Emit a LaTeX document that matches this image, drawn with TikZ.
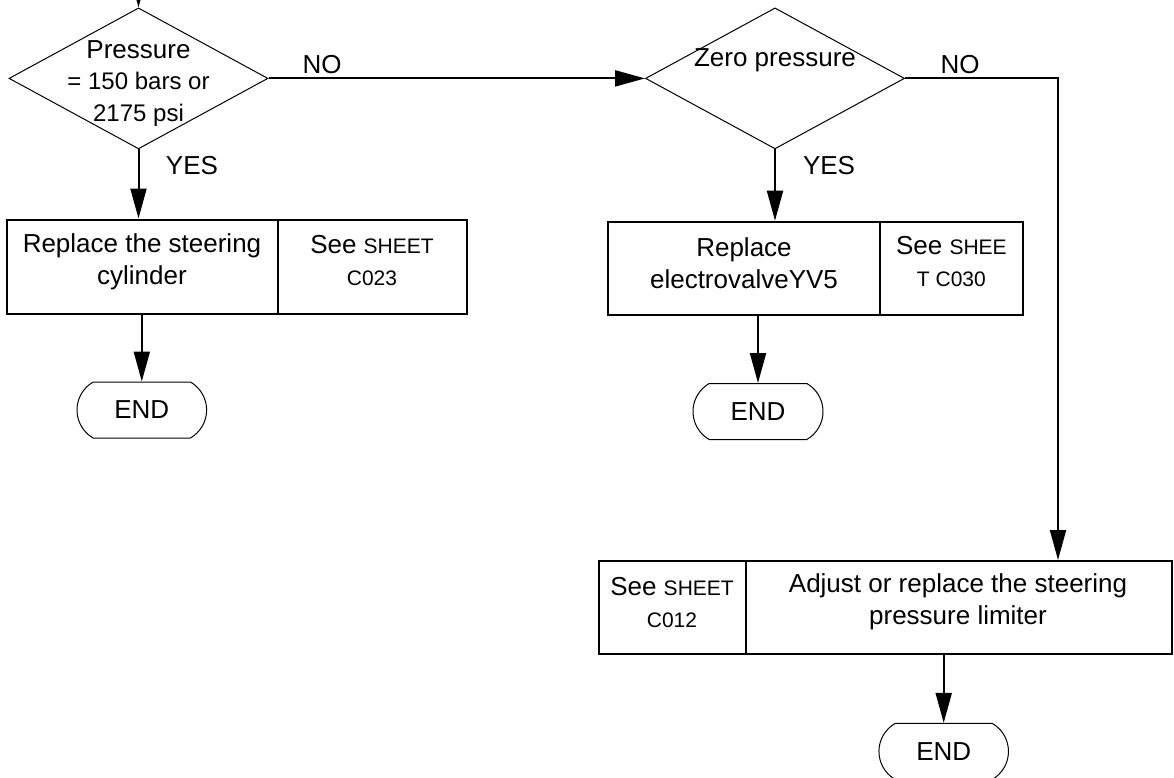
\documentclass[tikz,border=0pt]{standalone}
\usepackage{fontspec}
\setmainfont{Liberation Sans}
\usetikzlibrary{arrows.meta,shapes.geometric,shapes.misc}
\newcommand\myfs[2]{\fontsize{#1}{#2}\selectfont}
\tikzset{
  dia/.style={draw, shape=diamond, inner sep=0pt, line width=1pt},
  boxnode/.style={draw, rectangle, inner sep=0pt, line width=2pt},
  endnode/.style={draw, rounded rectangle, rounded rectangle arc length=120, inner sep=0pt, line width=1pt, font=\myfs{26}{31}},
  txt/.style={align=center, inner sep=0pt, font=\myfs{26}{32}},
  lbl/.style={inner sep=0pt, font=\myfs{26}{31}},
  conn/.style={line width=2pt},
  arr/.style={line width=2pt, -{Triangle[length=30pt,width=16pt]}},
}
\begin{document}
\begin{tikzpicture}[x=1pt,y=-1pt]
\useasboundingbox (0,0) rectangle (1174,778);
% decisions
\node[dia, minimum width=259pt, minimum height=141pt] (d1) at (138.5,78.4) {};
\node[txt] (d1t) at (138.5,83.5) {\myfs{26}{31}Pressure\\[-1pt]\myfs{24}{31}= 150 bars or\\\myfs{24}{31}2175 psi};
\node[dia, minimum width=259pt, minimum height=141pt] (d2) at (775,78.4) {};
\node[lbl] (d2t) at (775,60.5) {Zero pressure};
% boxes
\node[boxnode, minimum width=271pt, minimum height=94pt] (b1a) at (142.2,266.5) {};
\node[boxnode, minimum width=188.7pt, minimum height=94pt] (b1b) at (372.15,266.5) {};
\node[txt] (b1at) at (142,261.5) {Replace the steering\\cylinder};
\node[txt] (b1bt) at (372,260.5) {See {\myfs{21}{32}SHEET}\\{\myfs{21}{32}C023}};
\node[boxnode, minimum width=272pt, minimum height=93pt] (b2a) at (744,268.2) {};
\node[boxnode, minimum width=142.8pt, minimum height=93pt] (b2b) at (951.4,268.2) {};
\node[txt] (b2at) at (744,263) {Replace\\electrovalveYV5};
\node[txt] (b2bt) at (951.4,262) {See {\myfs{21}{32}SHEE}\\{\myfs{21}{32}T C030}};
\node[boxnode, minimum width=146.7pt, minimum height=92.5pt] (b3a) at (672.35,607.25) {};
\node[boxnode, minimum width=426pt, minimum height=92.5pt] (b3b) at (958.7,607.25) {};
\node[txt] (b3at) at (672,602.5) {See {\myfs{21}{32}SHEET}\\{\myfs{21}{32}C012}};
\node[txt] (b3bt) at (958,602) {Adjust or replace the steering\\pressure limiter};
% ends
\node[endnode, minimum width=129.6pt, minimum height=56pt] (e1) at (141.8,410) {END};
\node[endnode, minimum width=130pt, minimum height=56pt] (e2) at (758,411.5) {END};
\node[endnode, minimum width=129.5pt, minimum height=56pt] (e3) at (943.7,751.4) {END};
% labels
\node[lbl] (no1) at (322,64.5) {NO};
\node[lbl] (no2) at (960,64.5) {NO};
\node[lbl] (yes1) at (192,166) {YES};
\node[lbl] (yes2) at (829,166) {YES};
% connectors
\coordinate (top) at (138.5,-40);
\coordinate (turn) at (1058,78.4);
\draw[arr] (top) -- (d1.north);
\draw[arr] (d1.east) -- (d2.west);
\draw[arr] (d1.south) -- (d1.south |- b1a.north);
\draw[arr] (b1a.south -| e1.north) -- (e1.north);
\draw[arr] (d2.south) -- (d2.south |- b2a.north);
\draw[arr] (b2a.south -| e2.north) -- (e2.north);
\draw[arr] (d2.east) -- (turn) -- (turn |- b3b.north);
\draw[arr] (b3b.south -| e3.north) -- (e3.north);
\end{tikzpicture}
\end{document}
